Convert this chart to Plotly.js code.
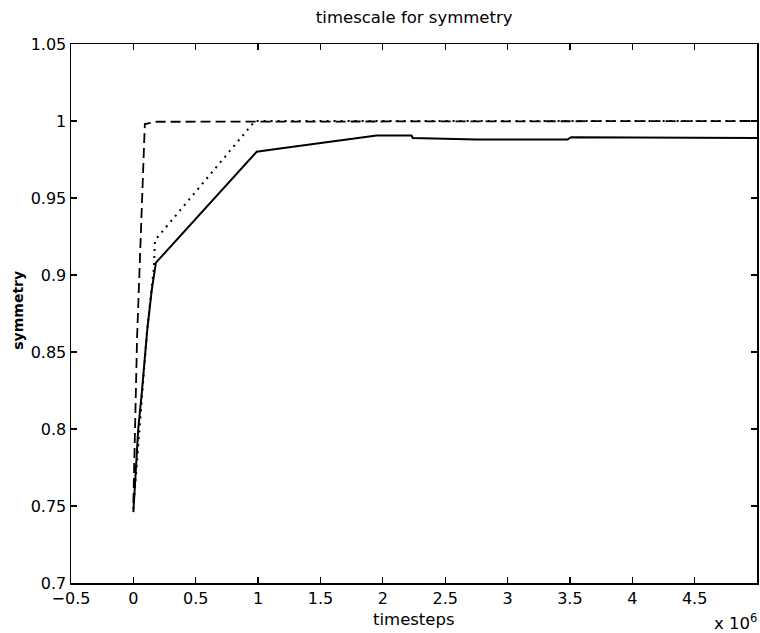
<!DOCTYPE html>
<html>
<head>
<meta charset="utf-8">
<script src="https://cdn.plot.ly/plotly-3.0.1.min.js"></script>
<style>html,body{margin:0;padding:0;background:#fff}#chart{width:760px;height:633px}</style>
</head>
<body>
<div id="chart"></div>
<script>
// Series (x in timesteps, y = symmetry)
const solidX  = [0, 39000, 67000, 111000, 147000, 181000, 989000, 1160000, 1950000, 2230000, 2240000, 2720000, 2750000, 3480000, 3510000, 5000000];
const solidY  = [0.746, 0.800, 0.823, 0.864, 0.890, 0.908, 0.980, 0.982, 0.9906, 0.9906, 0.989, 0.9885, 0.988, 0.988, 0.9895, 0.989];
const dashedX = [0, 30000, 92000, 187000, 5000000];
const dashedY = [0.752, 0.860, 0.998, 0.9995, 1.0];
const dottedX = [0, 110000, 165000, 173000, 975000, 5000000];
const dottedY = [0.748, 0.864, 0.905, 0.9225, 1.0, 1.0];

// Tick labels
const xTickVals = [-500000, 0, 500000, 1000000, 1500000, 2000000, 2500000, 3000000, 3500000, 4000000, 4500000];
const xTickText = ["\u22120.5", "0", "0.5", "1", "1.5", "2", "2.5", "3", "3.5", "4", "4.5"];
const yTickVals = [0.7, 0.75, 0.8, 0.85, 0.9, 0.95, 1.0, 1.05];
const yTickText = ["0.7", "0.75", "0.8", "0.85", "0.9", "0.95", "1", "1.05"];

const titleText = "timescale for symmetry";
const xLabel = "timesteps";
const yLabel = "symmetry";
const xMultiplier = "x 10<sup>6</sup>";

const FONT = "DejaVu Sans";

const traces = [
  {x: solidX, y: solidY, type: 'scatter', mode: 'lines', line: {color: '#000', width: 2}, hoverinfo: 'skip'},
  {x: dottedX, y: dottedY, type: 'scatter', mode: 'lines', line: {color: '#000', width: 2, dash: '2px,5px'}, hoverinfo: 'skip'},
  {x: dashedX, y: dashedY, type: 'scatter', mode: 'lines', line: {color: '#000', width: 1.8, dash: '10px,5px'}, hoverinfo: 'skip'}
];

const axisCommon = {
  showgrid: false, zeroline: false, showline: true, linecolor: '#000', linewidth: 1.5,
  mirror: 'ticks', ticks: 'inside', ticklen: 6, tickwidth: 1.2, tickcolor: '#000',
  tickfont: {family: FONT, size: 16, color: '#000'}, tickmode: 'array'
};

const layout = {
  width: 760, height: 633,
  paper_bgcolor: '#fff', plot_bgcolor: '#fff',
  margin: {l: 71, r: 3, t: 43.5, b: 50, pad: 0},
  showlegend: false,
  font: {family: FONT, color: '#000'},
  title: {text: titleText, font: {family: FONT, size: 16.5, color: '#000'}, x: 0.545, xanchor: 'center', y: 1 - 17/633, yanchor: 'middle', xref: 'container', yref: 'container'},
  xaxis: Object.assign({}, axisCommon, {range: [-500000, 5000000], tickvals: xTickVals, ticktext: xTickText}),
  yaxis: Object.assign({}, axisCommon, {range: [0.7, 1.05], tickvals: yTickVals, ticktext: yTickText}),
  annotations: [
    {text: xLabel, xref: 'paper', yref: 'paper', x: 0.5, y: -(620 - 583) / 539.5, xanchor: 'center', yanchor: 'middle', showarrow: false, font: {family: FONT, size: 16.5, color: '#000'}},
    {text: yLabel, xref: 'paper', yref: 'paper', x: (18.5 - 71) / 686, y: (583 - 310) / 539.5, xanchor: 'center', yanchor: 'middle', textangle: -90, showarrow: false, font: {family: FONT, size: 14, color: '#000', weight: 'bold'}},
    {text: xMultiplier, xref: 'paper', yref: 'paper', x: (759 - 71) / 686, y: -(622 - 583) / 539.5, xanchor: 'right', yanchor: 'middle', showarrow: false, font: {family: FONT, size: 16.5, color: '#000'}}
  ]
};

Plotly.newPlot('chart', traces, layout, {staticPlot: true, displayModeBar: false});
</script>
</body>
</html>
